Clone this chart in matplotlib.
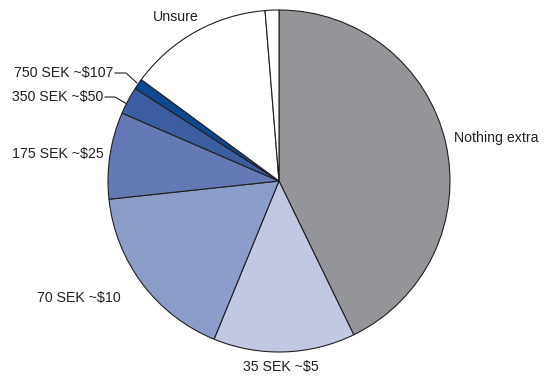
import matplotlib
matplotlib.use("Agg")
import matplotlib.pyplot as plt

plt.rcParams['font.family'] = ['Liberation Sans', 'DejaVu Sans']

labels = ["Nothing extra", "35 SEK ~$5", "70 SEK ~$10", "175 SEK ~$25",
          "350 SEK ~$50", "750 SEK ~$107", "Unsure", ""]
shares = [42.8, 13.4, 17.1, 8.2, 2.6, 1.0, 13.6, 1.3]
colors = ["#939598", "#c2c7e2", "#8c9dca", "#6479b6", "#3b5ea2", "#0d4891",
          "#ffffff", "#ffffff"]

W, H = 546, 376
fig = plt.figure(figsize=(W / 100, H / 100), dpi=100)
ax = fig.add_axes([0, 0, 1, 1])

cx, cy, r = 279, H - 181, 171
ax.pie(shares, colors=colors, startangle=90, counterclock=False,
       center=(cx, cy), radius=r,
       wedgeprops=dict(edgecolor="#231f20", linewidth=0.8))

ax.set_xlim(0, W)
ax.set_ylim(0, H)
ax.set_aspect("equal")
ax.axis("off")

fs = 10.2
txt = dict(fontsize=fs, color="#231f20", va="center")
ax.text(454, H - 138, labels[0], ha="left", **txt)
ax.text(281, H - 367, labels[1], ha="center", **txt)
ax.text(121, H - 298, labels[2], ha="right", **txt)
ax.text(104, H - 154, labels[3], ha="right", **txt)
ax.text(103, H - 97, labels[4], ha="right", **txt)
ax.text(113, H - 73, labels[5], ha="right", **txt)
ax.text(176, H - 17, labels[6], ha="center", **txt)

# leader lines for the two thin slices
ax.plot([105, 115, 127], [H - 97, H - 97, H - 104], color="#231f20", lw=0.8)
ax.plot([115, 126, 137], [H - 73, H - 73, H - 83], color="#231f20", lw=0.8)

fig.savefig("out.png", dpi=100)
